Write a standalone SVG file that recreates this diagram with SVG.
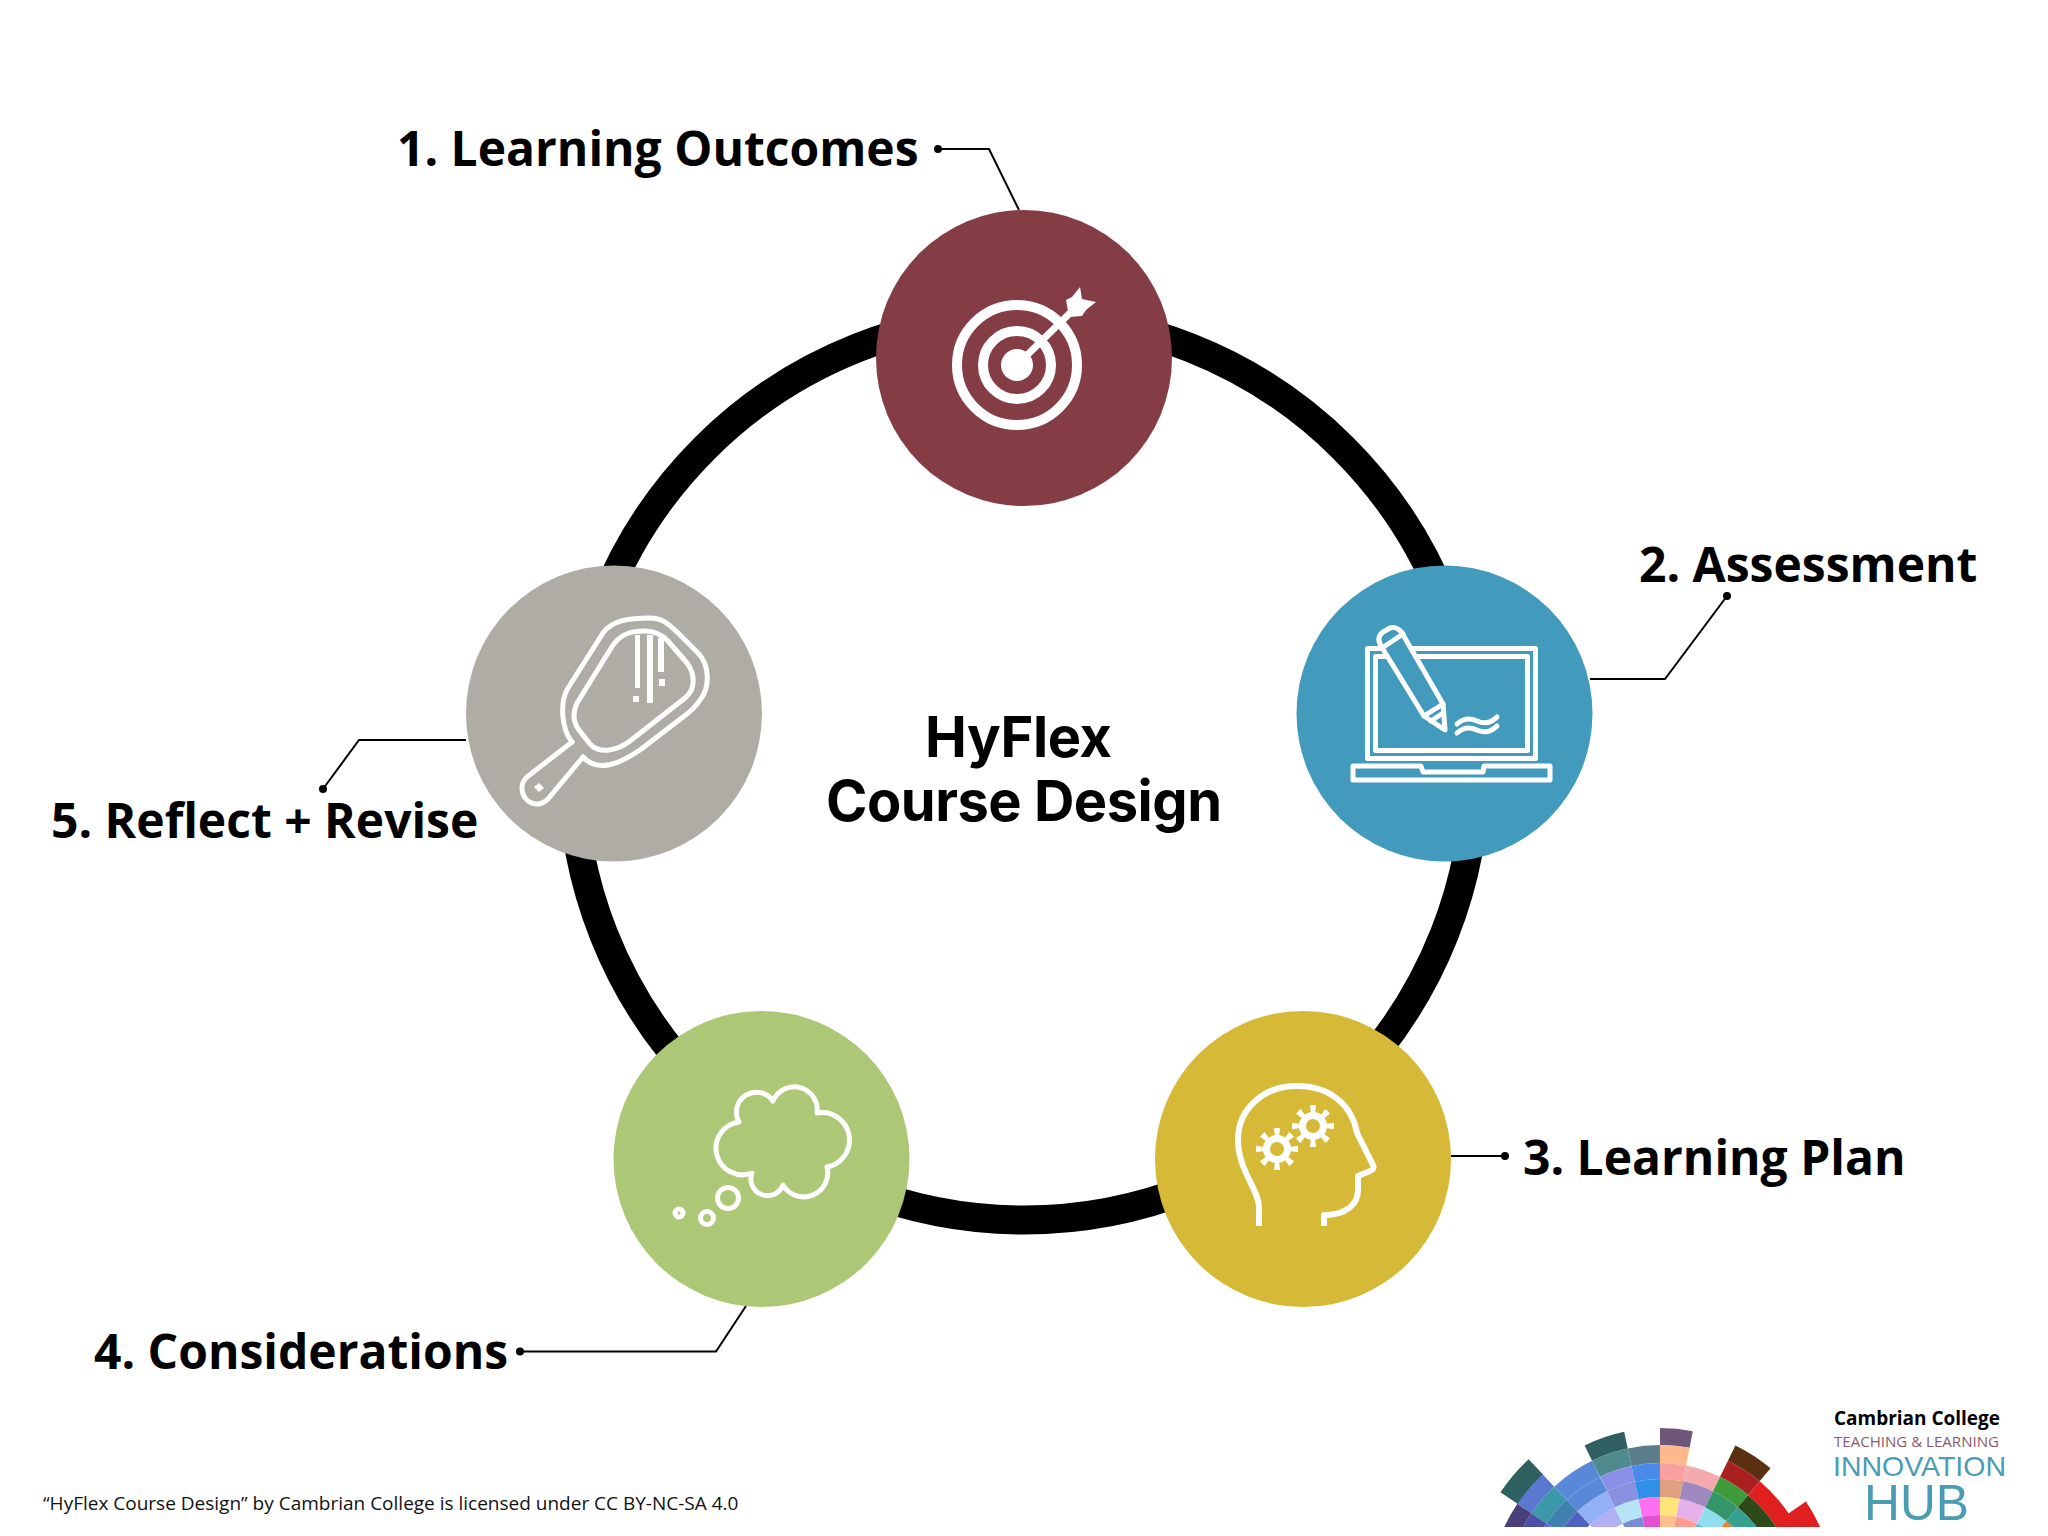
<svg xmlns="http://www.w3.org/2000/svg" width="2048" height="1536" viewBox="0 0 2048 1536">
<defs>
<style>
.lbl{font-family:"Open Sans","Liberation Sans",sans-serif;font-weight:700;font-size:48px;fill:#000}
.ttl{font-family:Inter,"Liberation Sans",sans-serif;font-weight:700;font-size:56px;fill:#000}
.ln{fill:none;stroke:#000;stroke-width:2}
.ic{fill:none;stroke:#fff;stroke-width:5;stroke-linejoin:round;stroke-linecap:round}
.icb{fill:#fff;stroke:none}
.lg{font-family:"Open Sans","Liberation Sans",sans-serif}
.lh{font-family:"Liberation Sans",Arial,sans-serif;fill:#4A9CB5}
.seg circle{fill:none}
</style>
<clipPath id="lc"><rect x="1480" y="1400" width="360" height="127"/></clipPath>
<g id="gear"><circle r="10.500" fill="none" stroke="#fff" stroke-width="7"/><circle r="17" fill="none" stroke="#fff" stroke-width="8" pathLength="80" stroke-dasharray="4 6" stroke-dashoffset="2"/></g>
</defs>
<rect width="2048" height="1536" fill="#fff"/>
<g id="connectors">
<circle cx="1024" cy="768" r="452" fill="none" stroke="#000" stroke-width="29"/>
<path class="ln" d="M938 149H989L1019 210"/><circle cx="938" cy="149" r="4"/>
<path class="ln" d="M1727 596L1665 679H1590"/><circle cx="1727" cy="596" r="4"/>
<path class="ln" d="M1451 1156H1505"/><circle cx="1505" cy="1156" r="4"/>
<path class="ln" d="M520 1351.500H716L746 1306"/><circle cx="520" cy="1351.500" r="4"/>
<path class="ln" d="M323 789L359 740H466"/><circle cx="323" cy="789" r="4"/>
</g>
<g id="node1">
<circle cx="1024" cy="358" r="148" fill="#853D45"/>
<circle class="ic" style="stroke-width:10" cx="1017" cy="365" r="60"/>
<circle class="ic" style="stroke-width:10" cx="1017" cy="365" r="34"/>
<circle class="icb" cx="1017" cy="365" r="16"/>
<path class="ic" style="stroke-width:7" d="M1021 361L1069 314"/>
<path class="icb" d="M1066 300L1072 297 1080 287 1082 299 1096 302 1086 310 1082 316 1069 317z"/>
<text class="lbl" x="397" y="166">1. Learning Outcomes</text>
</g>
<g id="node2">
<circle cx="1444.500" cy="713.500" r="148" fill="#429ABC"/>
<rect class="ic" x="1367.500" y="648.500" width="168" height="110"/>
<rect class="ic" x="1375.500" y="656.500" width="152" height="94"/>
<path class="ic" style="fill:#429ABC" d="M1381 646Q1376 637 1383 632L1390 628Q1397 626 1402 633L1443 704 1445 730 1424 716z"/>
<path class="ic" d="M1385 646L1403 634M1424 716L1443 704M1431 721L1443 713"/>
<path class="ic" d="M1457 724Q1466 716 1477 721T1497 717M1457 733Q1466 725 1477 730T1497 726"/>
<path class="ic" d="M1353 766H1421L1423 772H1483L1484 766H1550V780H1353z"/>
<text class="lbl" x="1639" y="582">2. Assessment</text>
</g>
<g id="node3">
<circle cx="1303" cy="1159" r="148" fill="#D5B937"/>
<path class="ic" style="stroke-width:6;stroke-linecap:butt" d="M1259 1226V1207C1259 1190 1238 1170 1238 1140 1238 1110 1262 1086 1297 1086 1330 1086 1352 1105 1357 1133L1373 1165Q1375 1169 1370 1171L1358 1176V1190C1358 1205 1345 1215 1325 1215H1324V1226"/>
<use href="#gear" x="1277" y="1149"/><use href="#gear" x="1313" y="1126"/>
<text class="lbl" x="1523" y="1175">3. Learning Plan</text>
</g>
<g id="node4">
<circle cx="761.500" cy="1159" r="148" fill="#ACC876"/>
<path class="ic" d="M739 1122A20 20 0 0 1 773 1101A23 23 0 0 1 817 1113A26.500 26.500 0 0 1 827 1167A24 24 0 0 1 783 1185A16.500 16.500 0 0 1 752 1173A26.500 26.500 0 1 1 739 1122z"/>
<circle class="ic" cx="728" cy="1198" r="10.500"/><circle class="ic" cx="707" cy="1218" r="6.500"/><circle class="ic" cx="679" cy="1213" r="4"/>
<text class="lbl" x="94" y="1369">4. Considerations</text>
</g>
<g id="node5">
<circle cx="614" cy="713.500" r="148" fill="#AFACA5"/>
<path class="ic" d="M572 742C562 730 559 703 568 688L603 633C612 620 630 618 650 618C665 618 672 628 677 632L698 653C710 665 710 688 700 700C695 708 690 712 683 717L640 750C625 760 600 775 583 757"/>
<path class="ic" d="M572 742L527 777C517 786 523 804 537 804 542 804 545 802 548 799L583 757"/>
<path class="ic" d="M577 703L613 645C622 633 632 631 645 631C655 631 662 635 668 641L687 663C696 675 695 690 685 698L630 741C618 750 600 755 590 744L579 730C573 722 573 712 577 703z"/>
<path class="icb" d="M635 635H640V688H635zM647 635H653V703H647zM658 638H664V672H658zM659 679H665V686H659zM633 696H639V702H633zM534 787L539 783 544 788 539 792z"/>
<text class="lbl" x="51" y="838">5. Reflect + Revise</text>
</g>
<g id="title">
<text class="ttl" x="925" y="757" textLength="187">HyFlex</text>
<text class="ttl" x="826" y="821" textLength="396">Course Design</text>
</g>
<text id="credit" class="lg" x="43" y="1510" font-size="19" fill="#111">“HyFlex Course Design” by Cambrian College is licensed under CC BY-NC-SA 4.0</text>
<g id="logo">
<g clip-path="url(#lc)"><g class="seg" transform="translate(1660 1600)">
<g transform="rotate(-146)">
<circle r="182" stroke="#2F6060" stroke-width="21" pathLength="360" stroke-dasharray="13 360"/>
<circle r="163.500" stroke="#5A78D0" stroke-width="17" pathLength="360" stroke-dasharray="13 360"/>
<circle r="146" stroke="#3A98A8" stroke-width="18" pathLength="360" stroke-dasharray="13 360"/>
<circle r="129" stroke="#4080B0" stroke-width="16" pathLength="360" stroke-dasharray="13 360"/>
<circle r="112" stroke="#5060C0" stroke-width="18" pathLength="360" stroke-dasharray="13 360"/>
</g>
<g transform="rotate(-164)">
<circle r="163.500" stroke="#4A3F78" stroke-width="17" pathLength="360" stroke-dasharray="18 360"/>
<circle r="146" stroke="#4A50A8" stroke-width="18" pathLength="360" stroke-dasharray="18 360"/>
<circle r="129" stroke="#6060F0" stroke-width="16" pathLength="360" stroke-dasharray="18 360"/>
<circle r="112" stroke="#5060C0" stroke-width="18" pathLength="360" stroke-dasharray="18 360"/>
</g>
<g transform="rotate(-133)">
<circle r="146" stroke="#5A88D8" stroke-width="18" pathLength="360" stroke-dasharray="17 360"/>
<circle r="129" stroke="#5A88D8" stroke-width="16" pathLength="360" stroke-dasharray="17 360"/>
<circle r="112" stroke="#92B0F5" stroke-width="18" pathLength="360" stroke-dasharray="17 360"/>
<circle r="94" stroke="#B0B0F5" stroke-width="18" pathLength="360" stroke-dasharray="17 360"/>
</g>
<g transform="rotate(-116)">
<circle r="163.500" stroke="#2F5F60" stroke-width="17" pathLength="360" stroke-dasharray="14 360"/>
<circle r="146" stroke="#4F8A8C" stroke-width="18" pathLength="360" stroke-dasharray="14 360"/>
<circle r="129" stroke="#8A90E8" stroke-width="16" pathLength="360" stroke-dasharray="14 360"/>
<circle r="112" stroke="#8A90E0" stroke-width="18" pathLength="360" stroke-dasharray="14 360"/>
<circle r="94" stroke="#B5E5F5" stroke-width="18" pathLength="360" stroke-dasharray="14 360"/>
<circle r="79" stroke="#7B8AD8" stroke-width="12" pathLength="360" stroke-dasharray="14 360"/>
</g>
<g transform="rotate(-102)">
<circle r="146" stroke="#5B7F8A" stroke-width="18" pathLength="360" stroke-dasharray="12 360"/>
<circle r="129" stroke="#4A8AE8" stroke-width="16" pathLength="360" stroke-dasharray="12 360"/>
<circle r="112" stroke="#3090E8" stroke-width="18" pathLength="360" stroke-dasharray="12 360"/>
<circle r="94" stroke="#FF70F0" stroke-width="18" pathLength="360" stroke-dasharray="12 360"/>
<circle r="79" stroke="#E050D0" stroke-width="12" pathLength="360" stroke-dasharray="12 360"/>
</g>
<g transform="rotate(-90)">
<circle r="163.500" stroke="#6F5678" stroke-width="17" pathLength="360" stroke-dasharray="11 360"/>
<circle r="146" stroke="#FFB98C" stroke-width="18" pathLength="360" stroke-dasharray="11 360"/>
<circle r="129" stroke="#F9A0A0" stroke-width="16" pathLength="360" stroke-dasharray="11 360"/>
<circle r="112" stroke="#DFA080" stroke-width="18" pathLength="360" stroke-dasharray="11 360"/>
<circle r="94" stroke="#FFE47A" stroke-width="18" pathLength="360" stroke-dasharray="11 360"/>
<circle r="79" stroke="#FFC090" stroke-width="12" pathLength="360" stroke-dasharray="11 360"/>
</g>
<g transform="rotate(-79)">
<circle r="129" stroke="#F5AAB0" stroke-width="16" pathLength="360" stroke-dasharray="15 360"/>
<circle r="112" stroke="#A088C0" stroke-width="18" pathLength="360" stroke-dasharray="15 360"/>
<circle r="94" stroke="#E5B0E8" stroke-width="18" pathLength="360" stroke-dasharray="15 360"/>
<circle r="79" stroke="#FF9A90" stroke-width="12" pathLength="360" stroke-dasharray="15 360"/>
</g>
<g transform="rotate(-64)">
<circle r="163.500" stroke="#5A3010" stroke-width="17" pathLength="360" stroke-dasharray="14 360"/>
<circle r="146" stroke="#A82020" stroke-width="18" pathLength="360" stroke-dasharray="14 360"/>
<circle r="129" stroke="#3F9B3A" stroke-width="16" pathLength="360" stroke-dasharray="14 360"/>
<circle r="112" stroke="#35956A" stroke-width="18" pathLength="360" stroke-dasharray="14 360"/>
<circle r="94" stroke="#90DDF0" stroke-width="18" pathLength="360" stroke-dasharray="14 360"/>
<circle r="79" stroke="#5ABAC8" stroke-width="12" pathLength="360" stroke-dasharray="14 360"/>
</g>
<g transform="rotate(-50)">
<circle r="146" stroke="#E02020" stroke-width="18" pathLength="360" stroke-dasharray="30 360"/>
<circle r="129" stroke="#2F4A1A" stroke-width="16" pathLength="360" stroke-dasharray="30 360"/>
<circle r="112" stroke="#35A090" stroke-width="18" pathLength="360" stroke-dasharray="30 360"/>
<circle r="94" stroke="#F08030" stroke-width="18" pathLength="360" stroke-dasharray="30 360"/>
</g>
<g transform="rotate(-34)">
<circle r="165" stroke="#E02020" stroke-width="22" pathLength="360" stroke-dasharray="16 360"/>
</g>
</g></g>
<text class="lg" x="1834" y="1425" font-size="20" font-weight="700" fill="#000" textLength="166" lengthAdjust="spacingAndGlyphs">Cambrian College</text>
<text class="lg" x="1834" y="1447" font-size="15" fill="#8A5A68" textLength="165" lengthAdjust="spacingAndGlyphs">TEACHING &amp; LEARNING</text>
<text class="lh" x="1833" y="1476" font-size="28" textLength="173" lengthAdjust="spacingAndGlyphs">INNOVATION</text>
<text class="lh" x="1864" y="1520" font-size="50" textLength="105" lengthAdjust="spacingAndGlyphs">HUB</text>
</g>
</svg>
